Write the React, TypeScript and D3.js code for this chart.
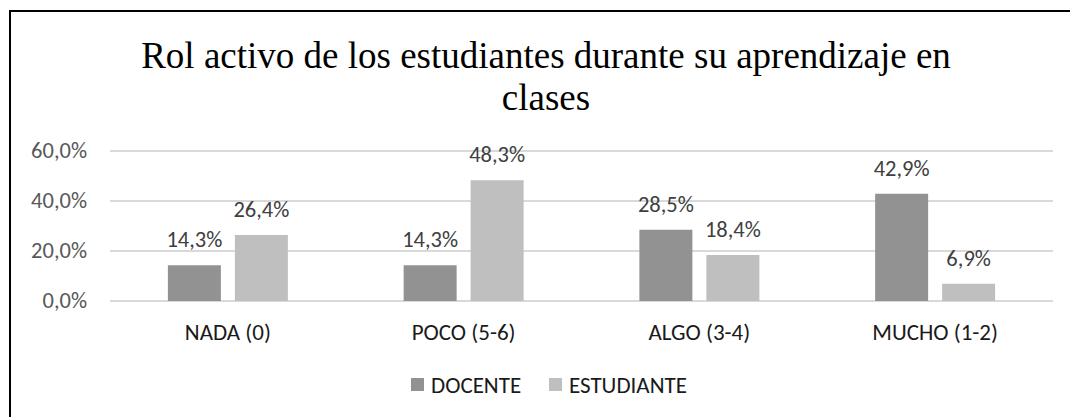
import { useEffect, useRef } from 'react';
import * as d3 from 'd3';

const categories = ['NADA (0)', 'POCO (5-6)', 'ALGO (3-4)', 'MUCHO (1-2)'];
const series = ['DOCENTE', 'ESTUDIANTE'];
const docente = [14.3, 14.3, 28.5, 42.9];
const estudiante = [26.4, 48.3, 18.4, 6.9];
const yTicks = [0, 20, 40, 60];
const colors = ['#929292', '#bfbfbf'];

const fmt = (v: number) => v.toFixed(1).replace('.', ',') + '%';
const labelFont = 'Carlito, Calibri, Lato, sans-serif';

function App() {
  const ref = useRef<SVGSVGElement>(null);

  useEffect(() => {
    const svg = d3.select(ref.current);
    svg.selectAll('*').remove();

    const left = 110, right = 1053, top = 151, bottom = 301;

    const x0 = d3.scaleBand<string>().domain(categories).range([left, right]);
    const x1 = d3.scaleBand<string>().domain(series)
      .range([0, x0.bandwidth()]).paddingInner(0.209).paddingOuter(0.864);
    const y = d3.scaleLinear().domain([0, 60]).range([bottom, top]);

    // chart frame
    svg.append('rect')
      .attr('x', 10).attr('y', 11).attr('width', 1100).attr('height', 460)
      .attr('fill', 'white').attr('stroke', '#000').attr('stroke-width', 2);

    // title
    const title = svg.append('text')
      .attr('text-anchor', 'middle')
      .attr('font-family', '"Liberation Serif", "Times New Roman", serif')
      .attr('font-size', 37).attr('fill', '#000');
    title.append('tspan').attr('x', 546).attr('y', 68)
      .text('Rol activo de los estudiantes durante su aprendizaje en');
    title.append('tspan').attr('x', 546).attr('y', 110).text('clases');

    // grid + y ticks
    const grid = svg.append('g');
    yTicks.forEach(t => {
      grid.append('line')
        .attr('x1', left).attr('x2', right)
        .attr('y1', y(t)).attr('y2', y(t))
        .attr('stroke', '#d9d9d9').attr('stroke-width', 2);
      grid.append('text')
        .attr('x', 87).attr('y', y(t) + 7)
        .attr('text-anchor', 'end')
        .attr('font-family', labelFont).attr('font-size', 22.5)
        .attr('fill', '#595959')
        .text(fmt(t));
    });

    const rows = categories.map((c, i) => ({ c, vals: [docente[i], estudiante[i]] }));

    const groups = svg.append('g').selectAll('g').data(rows).join('g')
      .attr('transform', d => `translate(${x0(d.c)},0)`);

    groups.selectAll('rect').data(d => d.vals.map((v, j) => ({ v, s: series[j], j })))
      .join('rect')
      .attr('x', d => x1(d.s)!)
      .attr('width', x1.bandwidth())
      .attr('y', d => y(d.v))
      .attr('height', d => y(0) - y(d.v))
      .attr('fill', d => colors[d.j]);

    groups.selectAll('text.val').data(d => d.vals.map((v, j) => ({ v, s: series[j] })))
      .join('text')
      .attr('class', 'val')
      .attr('x', d => x1(d.s)! + x1.bandwidth() / 2)
      .attr('y', d => y(d.v) - 18)
      .attr('text-anchor', 'middle')
      .attr('font-family', labelFont).attr('font-size', 22.5)
      .attr('fill', '#404040')
      .text(d => fmt(d.v));

    // category labels
    svg.append('g').selectAll('text').data(categories).join('text')
      .attr('x', d => x0(d)! + x0.bandwidth() / 2)
      .attr('y', 340)
      .attr('text-anchor', 'middle')
      .attr('font-family', labelFont).attr('font-size', 23)
      .attr('fill', '#1a1a1a')
      .text(d => d);

    // legend
    const legend = svg.append('g');
    const lx = [411, 549];
    series.forEach((s, i) => {
      legend.append('rect')
        .attr('x', lx[i]).attr('y', 378).attr('width', 13).attr('height', 13)
        .attr('fill', colors[i]);
      legend.append('text')
        .attr('x', lx[i] + 20).attr('y', 393)
        .attr('font-family', labelFont).attr('font-size', 23)
        .attr('fill', '#1a1a1a')
        .text(s);
    });
  }, []);

  return (
    <svg
      ref={ref}
      width={1070}
      height={417}
      style={{ position: 'absolute', left: 0, top: 0, display: 'block' }}
    />
  );
}

export default App;
